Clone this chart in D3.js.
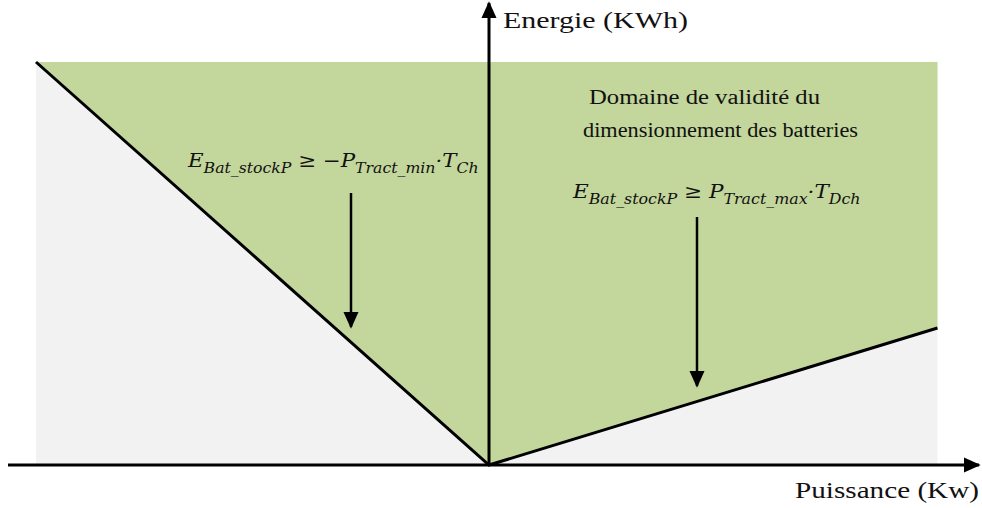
<!DOCTYPE html>
<html>
<head>
<meta charset="utf-8">
<script src="https://cdn.jsdelivr.net/npm/d3@7"></script>
<style>
  body { margin: 0; background: #fff; }
  svg { display: block; }
  .lbl { font-family: "Liberation Serif", "Times New Roman", serif; fill: #111; }
  .eq { font-family: "DejaVu Serif", serif; font-style: italic; fill: #111; }
</style>
</head>
<body>
<div id="chart"></div>
<script>
// power axis (arbitrary units): min traction, origin, max traction
const power = [-100, 0, 99];
// energy limit along the validity boundary
const energyLimit = [100, 0, 34];
const energyMax = 100;
const axisTitles = ["Puissance (Kw)", "Energie (KWh)"];
const domainText = ["Domaine de validité du", "dimensionnement des batteries"];

const W = 982, H = 508;

const svg = d3.select("#chart").append("svg")
  .attr("width", W)
  .attr("height", H);

const x = d3.scaleLinear().domain([-100, 100]).range([36, 942]);
const y = d3.scaleLinear().domain([0, energyMax]).range([465, 62]);

const pts = power.map((p, i) => [p, energyLimit[i]]);

// grey background (whole window)
svg.append("rect")
  .attr("x", x(power[0]))
  .attr("y", y(energyMax))
  .attr("width", x(power[2]) - x(power[0]))
  .attr("height", y(0) - y(energyMax))
  .attr("fill", "#f2f2f2");

// green validity domain, above the two boundary lines
const area = d3.area()
  .x(d => x(d[0]))
  .y0(y(energyMax))
  .y1(d => y(d[1]));
svg.append("path")
  .datum(pts)
  .attr("d", area)
  .attr("fill", "#c3d69b");

// boundary lines
svg.append("path")
  .datum(pts)
  .attr("d", d3.line().x(d => x(d[0])).y(d => y(d[1])))
  .attr("fill", "none")
  .attr("stroke", "#000")
  .attr("stroke-width", 3);

// arrowhead marker
svg.append("defs").append("marker")
  .attr("id", "head")
  .attr("viewBox", "0 0 10 10")
  .attr("refX", 9).attr("refY", 5)
  .attr("markerWidth", 17).attr("markerHeight", 17)
  .attr("markerUnits", "userSpaceOnUse")
  .attr("orient", "auto")
  .append("path")
  .attr("d", "M0,0.5 L10,5 L0,9.5 Z")
  .attr("fill", "#000");

// axes
svg.append("line")
  .attr("x1", 8).attr("y1", y(0))
  .attr("x2", 979).attr("y2", y(0))
  .attr("stroke", "#000").attr("stroke-width", 3)
  .attr("marker-end", "url(#head)");
svg.append("line")
  .attr("x1", x(0)).attr("y1", y(0))
  .attr("x2", x(0)).attr("y2", 3)
  .attr("stroke", "#000").attr("stroke-width", 3)
  .attr("marker-end", "url(#head)");

// text stretched a bit wider, like the source image
function label(txt, x0, y0, size, len) {
  svg.append("text")
    .attr("class", "lbl")
    .attr("x", x0).attr("y", y0)
    .attr("textLength", len)
    .attr("lengthAdjust", "spacingAndGlyphs")
    .style("font-size", size + "px")
    .text(txt);
}
label(axisTitles[0], 795, 498, 23, 184);
label(axisTitles[1], 503, 28, 23, 185);
label(domainText[0], 589, 104, 20, 231);
label(domainText[1], 583, 137, 20, 275);

// formulas
function formula(x0, y0, len, parts) {
  const g = svg.append("g");
  const t = g.append("text")
    .attr("class", "eq")
    .style("font-size", "19px");
  let sub = false;
  parts.forEach(p => {
    const s = t.append("tspan").text(p.t);
    if (p.sub) {
      s.style("font-size", "14px");
      if (!sub) { s.attr("dy", 6); sub = true; }
    } else if (sub) {
      s.attr("dy", -6); sub = false;
    }
  });
  const w = t.node().getBBox().width;
  g.attr("transform", `translate(${x0},${y0}) scale(${len / w},1)`);
}
formula(188, 167, 292, [
  {t: "E"}, {t: "Bat_stockP", sub: true},
  {t: " ≥ −P"}, {t: "Tract_min", sub: true},
  {t: "·T"}, {t: "Ch", sub: true}
]);
formula(573, 198, 289, [
  {t: "E"}, {t: "Bat_stockP", sub: true},
  {t: " ≥ P"}, {t: "Tract_max", sub: true},
  {t: "·T"}, {t: "Dch", sub: true}
]);

// pointer arrows
svg.append("line")
  .attr("x1", 351).attr("y1", 193)
  .attr("x2", 351).attr("y2", 327)
  .attr("stroke", "#000").attr("stroke-width", 2.5)
  .attr("marker-end", "url(#head)");
svg.append("line")
  .attr("x1", 697).attr("y1", 217)
  .attr("x2", 697).attr("y2", 386)
  .attr("stroke", "#000").attr("stroke-width", 2.5)
  .attr("marker-end", "url(#head)");
</script>
</body>
</html>
